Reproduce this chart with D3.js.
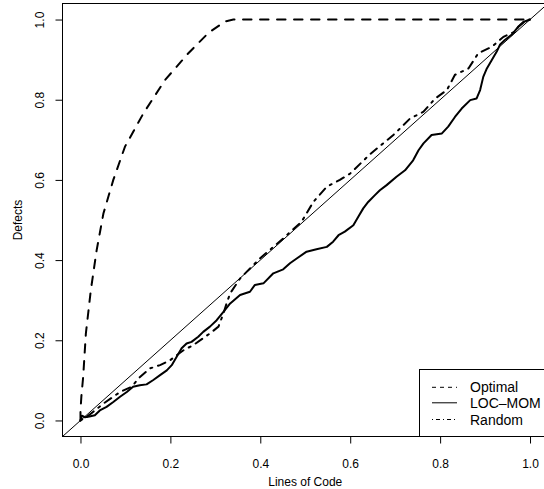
<!DOCTYPE html>
<html>
<head>
<meta charset="utf-8">
<script src="https://cdn.jsdelivr.net/npm/d3@7"></script>
<style>
  html, body { margin: 0; padding: 0; background: #ffffff; }
  svg { display: block; font-family: "Liberation Sans", Arial, Helvetica, sans-serif; }
</style>
</head>
<body>
<svg id="chart" width="544" height="489"></svg>
<script>
// ---------- data ----------
const xTicks = [0.0, 0.2, 0.4, 0.6, 0.8, 1.0];
const yTicks = [0.0, 0.2, 0.4, 0.6, 0.8, 1.0];
const tickLabels = ["0.0", "0.2", "0.4", "0.6", "0.8", "1.0"];
const seriesNames = ["Optimal", "LOC\u2013MOM", "Random"];

const optimalX = [0, 0, 0.002, 0.006, 0.012, 0.023, 0.036, 0.051, 0.073, 0.099, 0.140, 0.188, 0.240, 0.284, 0.321, 0.340, 1.0];
const optimalY = [0, 0.025, 0.06, 0.109, 0.217, 0.325, 0.425, 0.516, 0.600, 0.683, 0.766, 0.849, 0.916, 0.966, 0.995, 1.0, 1.0];

const locmomX = [0, 0.003, 0.010, 0.020, 0.032, 0.043, 0.058, 0.073, 0.088, 0.103, 0.117, 0.132, 0.147, 0.162, 0.177, 0.192, 0.203, 0.214, 0.225, 0.236, 0.247, 0.262, 0.273, 0.288, 0.303, 0.318, 0.333, 0.355, 0.377, 0.388, 0.407, 0.429, 0.451, 0.466, 0.481, 0.503, 0.525, 0.548, 0.562, 0.574, 0.588, 0.607, 0.618, 0.629, 0.640, 0.655, 0.666, 0.681, 0.703, 0.722, 0.740, 0.752, 0.763, 0.781, 0.804, 0.818, 0.833, 0.848, 0.867, 0.881, 0.889, 0.896, 0.904, 0.915, 0.926, 0.933, 0.944, 0.959, 0.974, 0.985, 1.0];
const locmomY = [0, 0.012, 0.008, 0.010, 0.013, 0.025, 0.034, 0.046, 0.059, 0.071, 0.084, 0.088, 0.090, 0.101, 0.113, 0.125, 0.138, 0.159, 0.180, 0.192, 0.196, 0.209, 0.221, 0.234, 0.250, 0.271, 0.292, 0.313, 0.321, 0.338, 0.342, 0.367, 0.377, 0.392, 0.404, 0.421, 0.427, 0.433, 0.446, 0.462, 0.471, 0.487, 0.508, 0.529, 0.545, 0.562, 0.574, 0.587, 0.608, 0.624, 0.649, 0.674, 0.691, 0.712, 0.716, 0.733, 0.757, 0.778, 0.799, 0.803, 0.824, 0.857, 0.878, 0.899, 0.920, 0.937, 0.949, 0.962, 0.982, 0.994, 1.0];

const randomX = [0, 0.014, 0.051, 0.088, 0.114, 0.129, 0.155, 0.177, 0.199, 0.229, 0.251, 0.288, 0.307, 0.318, 0.325, 0.333, 0.355, 0.399, 0.451, 0.492, 0.518, 0.548, 0.577, 0.600, 0.645, 0.670, 0.696, 0.733, 0.763, 0.789, 0.815, 0.833, 0.863, 0.885, 0.915, 0.941, 0.967, 0.974, 0.993, 1.0];
const randomY = [0, 0.009, 0.042, 0.071, 0.084, 0.105, 0.130, 0.138, 0.150, 0.175, 0.188, 0.217, 0.234, 0.267, 0.292, 0.317, 0.354, 0.404, 0.454, 0.496, 0.545, 0.583, 0.600, 0.616, 0.665, 0.688, 0.712, 0.753, 0.770, 0.803, 0.824, 0.862, 0.878, 0.916, 0.932, 0.957, 0.970, 0.982, 0.999, 1.0];

const diagonal = [-0.04, 1.04];

// ---------- layout ----------
const svg = d3.select("#chart");
const pL = 62.5, pR = 548, pT = 3.5, pB = 436.5;
const x = d3.scaleLinear().domain([-0.04, 1.04]).range([pL, pR]);
const y = d3.scaleLinear().domain([-0.04, 1.04]).range([pB, pT]);

svg.append("rect").attr("width", 544).attr("height", 489).attr("fill", "#fff");

svg.append("defs").append("clipPath").attr("id", "plotclip")
  .append("rect").attr("x", pL).attr("y", pT)
  .attr("width", pR - pL).attr("height", pB - pT);

const plot = svg.append("g").attr("clip-path", "url(#plotclip)");

const line = d3.line().x(d => x(d[0])).y(d => y(d[1]));
const zipXY = (xs, ys) => xs.map((v, i) => [v, ys[i]]);

// diagonal y = x
plot.append("path")
  .attr("d", line(diagonal.map(v => [v, v])))
  .attr("fill", "none").attr("stroke", "#000").attr("stroke-width", 1);

// Optimal (dashed)
plot.append("path")
  .attr("d", line(zipXY(optimalX, optimalY)))
  .attr("fill", "none").attr("stroke", "#000").attr("stroke-width", 2)
  .attr("stroke-dasharray", "8.5,8.5").attr("stroke-linecap", "round");

// LOC-MOM (solid)
plot.append("path")
  .attr("d", line(zipXY(locmomX, locmomY)))
  .attr("fill", "none").attr("stroke", "#000").attr("stroke-width", 2)
  .attr("stroke-linejoin", "round").attr("stroke-linecap", "round");

// Random (dot-dash)
plot.append("path")
  .attr("d", line(zipXY(randomX, randomY)))
  .attr("fill", "none").attr("stroke", "#000").attr("stroke-width", 2)
  .attr("stroke-dasharray", "2,6,8,6").attr("stroke-linecap", "round");

// box
svg.append("rect").attr("x", pL).attr("y", pT)
  .attr("width", pR - pL).attr("height", pB - pT)
  .attr("fill", "none").attr("stroke", "#000").attr("stroke-width", 1);

// x axis
const gx = svg.append("g").attr("transform", `translate(0,${pB})`)
  .call(d3.axisBottom(x).tickValues(xTicks).tickSize(7).tickFormat((d, i) => tickLabels[i]));
gx.select(".domain").attr("d", `M${x(0)},0H${x(1)}`).attr("stroke-width", 1);
gx.selectAll(".tick text").attr("y", 31).attr("dy", null)
  .attr("font-size", 12).attr("font-family", "Liberation Sans, Arial, sans-serif").attr("fill", "#000");

// y axis
const gy = svg.append("g").attr("transform", `translate(${pL},0)`)
  .call(d3.axisLeft(y).tickValues(yTicks).tickSize(7).tickFormat((d, i) => tickLabels[i]));
gy.select(".domain").attr("d", `M0,${y(0)}V${y(1)}`).attr("stroke-width", 1);
gy.selectAll(".tick text")
  .attr("x", null).attr("dy", null)
  .attr("transform", "translate(-19,0) rotate(-90)")
  .attr("text-anchor", "middle")
  .attr("font-size", 12).attr("font-family", "Liberation Sans, Arial, sans-serif").attr("fill", "#000");

// axis titles
svg.append("text").attr("x", (pL + pR) / 2).attr("y", 486)
  .attr("text-anchor", "middle").attr("font-size", 12).text("Lines of Code");
svg.append("text").attr("transform", `translate(21.5,${(pT + pB) / 2}) rotate(-90)`)
  .attr("text-anchor", "middle").attr("font-size", 12).text("Defects");

// legend
const legend = svg.append("g");
legend.append("rect").attr("x", 419.5).attr("y", 369.5)
  .attr("width", pR - 419.5).attr("height", pB - 369.5)
  .attr("fill", "#fff").attr("stroke", "#000").attr("stroke-width", 1);
const legDash = ["4,4", null, "1,3,4,3"];
const legRows = [387.3, 402.8, 419.5];
seriesNames.forEach((name, i) => {
  legend.append("line").attr("x1", 432).attr("x2", 457)
    .attr("y1", legRows[i]).attr("y2", legRows[i])
    .attr("stroke", "#000").attr("stroke-width", 1)
    .attr("stroke-dasharray", legDash[i]);
  legend.append("text").attr("x", 470).attr("y", legRows[i] + 5)
    .attr("font-size", 14).text(name);
});
</script>
</body>
</html>
